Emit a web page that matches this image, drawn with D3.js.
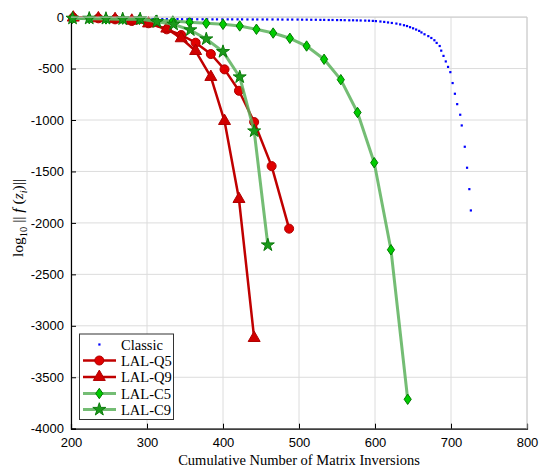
<!DOCTYPE html>
<html>
<head>
<meta charset="utf-8">
<script src="https://cdn.jsdelivr.net/npm/d3@7"></script>
<style>
  html, body { margin: 0; padding: 0; background: #fff; }
  svg { display: block; }
</style>
</head>
<body>
<svg id="chart" width="540" height="471"></svg>
<script>
// Axis ticks
const xTicks = [200, 300, 400, 500, 600, 700, 800];
const yTicks = [0, -500, -1000, -1500, -2000, -2500, -3000, -3500, -4000];

// Classic method: cumulative inversions vs log10 residual
const classicX = [201, 208, 214, 221, 227, 234, 241, 247, 254, 260, 267, 274, 280, 287, 293, 300, 307, 313, 320, 326,
  333, 340, 346, 353, 359, 366, 373, 379, 386, 392, 399, 406, 412, 419, 425, 432, 439, 445, 452, 458,
  465, 472, 478, 485, 491, 498,
  504, 510, 516, 522, 528, 533, 539, 544, 550, 555, 560, 566, 571, 576, 581, 587, 592, 597,
  601, 607, 612, 617, 622, 628, 633, 638, 642, 646, 650, 654, 658, 661, 665, 670, 674, 678, 681, 685,
  687, 690, 693, 696, 699, 702, 705, 708, 712, 714, 718, 721, 724, 726];
const classicY = [-12, -13, -13, -14, -14, -15, -15, -16, -16, -16, -17, -17, -17, -18, -18, -18, -18, -19, -19, -19,
  -19, -19, -20, -20, -20, -20, -20, -20, -21, -21, -21, -21, -21, -21, -21, -22, -22, -22, -22, -22,
  -22, -22, -23, -23, -23, -23,
  -24, -24, -25, -25, -26, -26, -27, -27, -28, -28, -29, -30, -30, -31, -32, -33, -34, -36,
  -38, -42, -46, -51, -56, -62, -70, -78, -86, -97, -108, -120, -133, -148, -166, -184, -202, -224, -250, -280,
  -325, -376, -430, -483, -534, -640, -744, -845, -948, -1052, -1259, -1463, -1671, -1878];

const q5X = [203, 236, 258, 280, 302, 326, 345, 364, 384, 402, 421, 441, 464, 487];
const q5Y = [-5, -12, -22, -38, -60, -119, -174, -249, -359, -508, -716, -1020, -1448, -2056];

const q9X = [203, 236, 258, 280, 302, 326, 345, 364, 384, 402, 421, 441];
const q9Y = [-5, -12, -20, -35, -62, -112, -206, -330, -582, -1010, -1768, -3119];

const c5X = [202, 224, 246, 268, 290, 312, 334, 356, 378, 400, 422, 444, 466, 488, 510, 533, 555, 577, 599, 621, 643];
const c5Y = [-12, -15, -18, -20, -22, -30, -38, -50, -60, -70, -86, -118, -155, -206, -281, -410, -608, -927, -1415, -2261, -3714];

const c9X = [202, 224, 246, 268, 291, 313, 335, 357, 378, 400, 422, 441, 459];
const c9Y = [-12, -12, -14, -18, -18, -45, -70, -125, -213, -336, -582, -1107, -2215];

const seriesNames = ["Classic", "LAL-Q5", "LAL-Q9", "LAL-C5", "LAL-C9"];

const svg = d3.select("#chart");
const x = d3.scaleLinear().domain([200, 800]).range([71, 527]);
const y = d3.scaleLinear().domain([-4000, 0]).range([428.7, 17.1]);

const gridColor = "#dcdcdc";

// Grid
const grid = svg.append("g");
grid.selectAll(".vx").data(xTicks).join("line")
  .attr("x1", d => x(d)).attr("x2", d => x(d))
  .attr("y1", y(0)).attr("y2", y(-4000))
  .attr("stroke", gridColor).attr("stroke-width", 1);
grid.selectAll(".hy").data(yTicks).join("line")
  .attr("x1", x(200)).attr("x2", x(800))
  .attr("y1", d => y(d)).attr("y2", d => y(d))
  .attr("stroke", gridColor).attr("stroke-width", 1);

// Axes (ticks drawn inward)
const xAxis = d3.axisBottom(x).tickValues(xTicks).tickSize(-5).tickPadding(9).tickFormat(d3.format("d"));
const yAxis = d3.axisLeft(y).tickValues(yTicks).tickSize(-5).tickPadding(10).tickFormat(d => d === 0 ? "0" : String(d));

const gx = svg.append("g").attr("transform", `translate(0,${y(-4000)})`).call(xAxis);
const gy = svg.append("g").attr("transform", `translate(${x(200)},0)`).call(yAxis);
[gx, gy].forEach(g => {
  g.select(".domain").attr("stroke", "#000").attr("stroke-width", 1.2);
  g.selectAll(".tick line").attr("stroke", "#000");
  g.selectAll(".tick text").attr("font-family", "'Liberation Sans', Arial, sans-serif")
    .attr("font-size", 13).attr("fill", "#000");
});
gy.selectAll(".tick text").attr("dx", 3);

// Marker shapes
const diamondPath = "M0,-5.2 L3.6,0 L0,5.2 L-3.6,0Z";
const circlePath = d3.symbol(d3.symbolCircle, 64)();
const trianglePath = d3.symbol(d3.symbolTriangle, 62)();
const starPath = d3.symbol(d3.symbolStar, 52)();

const line = d3.line().x(d => x(d[0])).y(d => y(d[1]));
const zip = (a, b) => a.map((v, i) => [v, b[i]]);

const plot = svg.append("g");

// Classic: small blue dots
plot.selectAll(".cl").data(zip(classicX, classicY)).join("rect")
  .attr("x", d => x(d[0]) - 1).attr("y", d => y(d[1]) - 1)
  .attr("width", 2.2).attr("height", 2.2).attr("fill", "#0000ff");

const styles = [
  { data: zip(q5X, q5Y), stroke: "#c00000", sw: 2.5, op: 1, path: circlePath, fill: "#e00000", mstroke: "#b00000" },
  { data: zip(q9X, q9Y), stroke: "#c00000", sw: 2.5, op: 1, path: trianglePath, fill: "#d00000", mstroke: "#b00000" },
  { data: zip(c5X, c5Y), stroke: "#5cb25c", sw: 3, op: 0.85, path: diamondPath, fill: "#00cc00", mstroke: "#007a00" },
  { data: zip(c9X, c9Y), stroke: "#5cb25c", sw: 3, op: 0.85, path: starPath, fill: "#1a9a1a", mstroke: "#0a7a0a" }
];

styles.forEach(s => {
  plot.append("path").datum(s.data).attr("d", line)
    .attr("fill", "none").attr("stroke", s.stroke).attr("stroke-width", s.sw)
    .attr("stroke-opacity", s.op).attr("stroke-linejoin", "round");
  plot.selectAll(null).data(s.data).join("path")
    .attr("d", s.path)
    .attr("transform", d => `translate(${x(d[0])},${y(d[1])})`)
    .attr("fill", s.fill).attr("stroke", s.mstroke).attr("stroke-width", 1);
});

// Light frame on top and right
svg.append("line").attr("x1", x(200)).attr("x2", x(800)).attr("y1", y(0)).attr("y2", y(0))
  .attr("stroke", "#cccccc");
svg.append("line").attr("x1", x(800)).attr("x2", x(800)).attr("y1", y(0)).attr("y2", y(-4000))
  .attr("stroke", "#cccccc");

// Axis titles
svg.append("text")
  .attr("x", 299).attr("y", 465)
  .attr("text-anchor", "middle")
  .attr("font-family", "'Liberation Serif', 'Times New Roman', serif")
  .attr("font-size", 14.5)
  .text("Cumulative Number of Matrix Inversions");

const yt = svg.append("text")
  .attr("transform", "translate(23,218) rotate(-90)")
  .attr("text-anchor", "middle")
  .attr("font-family", "'Liberation Serif', 'Times New Roman', serif")
  .attr("font-size", 15.5);
yt.append("tspan").text("log");
yt.append("tspan").attr("font-size", 10.5).attr("dy", 3.5).text("10");
yt.append("tspan").attr("dy", -3.5).text(" || ");
yt.append("tspan").attr("font-style", "italic").text("f");
yt.append("tspan").text(" (");
yt.append("tspan").attr("font-style", "italic").text("z");
yt.append("tspan").attr("font-size", 10.5).attr("dy", 3.5).attr("font-style", "italic").text("i");
yt.append("tspan").attr("dy", -3.5).text(")||");

// Legend
const lg = svg.append("g");
lg.append("rect").attr("x", 79.5).attr("y", 334).attr("width", 94).attr("height", 85.5)
  .attr("fill", "#fff").attr("stroke", "#333").attr("stroke-width", 1);
const rowY = [344.5, 360.5, 377, 393.5, 409.5];
seriesNames.forEach((name, i) => {
  const ry = rowY[i];
  if (i === 0) {
    lg.append("rect").attr("x", 98.3).attr("y", ry - 1.1).attr("width", 2.2).attr("height", 2.2).attr("fill", "#0000ff");
  } else {
    const s = styles[i - 1];
    lg.append("line").attr("x1", 83).attr("x2", 116).attr("y1", ry).attr("y2", ry)
      .attr("stroke", s.stroke).attr("stroke-width", s.sw).attr("stroke-opacity", s.op);
    lg.append("path").attr("d", s.path).attr("transform", `translate(99.3,${ry})`)
      .attr("fill", s.fill).attr("stroke", s.mstroke).attr("stroke-width", 1);
  }
  lg.append("text").attr("x", 121).attr("y", ry + 5)
    .attr("font-family", "'Liberation Serif', 'Times New Roman', serif")
    .attr("font-size", 14.5).text(name);
});
</script>
</body>
</html>
